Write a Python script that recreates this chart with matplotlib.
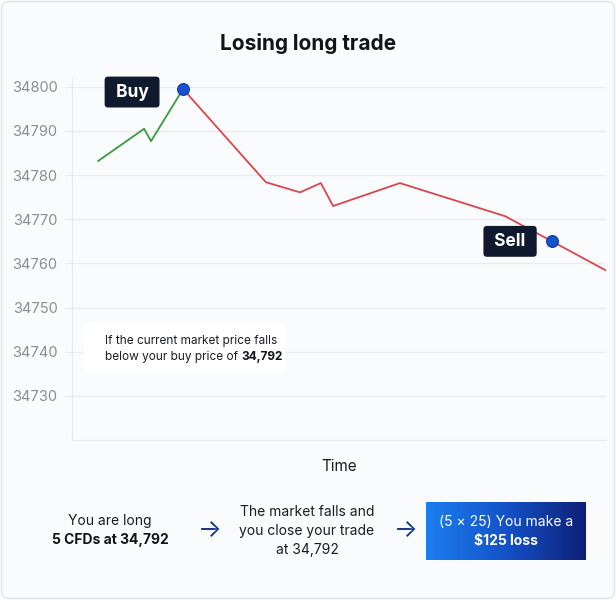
import numpy as np
import matplotlib
matplotlib.use("Agg")
import matplotlib.pyplot as plt
from matplotlib.patches import FancyBboxPatch
from matplotlib.colors import LinearSegmentedColormap

plt.rcParams['font.family'] = ['Inter', 'DejaVu Sans']

# data (time on a 0-100 scale)
t_buy = [4.9, 13.5, 14.8, 20.8]
p_buy = [34783.2, 34790.5, 34787.7, 34799.5]
t_sell = [20.8, 36.3, 42.7, 46.6, 48.9, 61.4, 81.1, 89.9, 100]
p_sell = [34799.5, 34778.4, 34776.1, 34778.2, 34773.0, 34778.2, 34770.7, 34765.0, 34758.4]
y_ticks = [34730, 34740, 34750, 34760, 34770, 34780, 34790, 34800]
buy_pt = (20.8, 34799.5)
sell_pt = (89.9, 34765.0)

W, H = 616, 600
fig = plt.figure(figsize=(W / 100, H / 100), dpi=100)
fig.patch.set_facecolor('white')

# outer card
card = FancyBboxPatch((1.5 / W, 1.5 / H), 1 - 3 / W, 1 - 3 / H,
                      boxstyle="round,pad=0,rounding_size=0.012",
                      transform=fig.transFigure, facecolor='#fafbfd',
                      edgecolor='#e3e5ea', lw=1.2, zorder=-10)
fig.patches.append(card)

ax = fig.add_axes([72 / W, 1 - 440 / H, (606 - 72) / W, (440 - 78) / H])
ax.set_facecolor('none')
ax.set_xlim(0, 100)
ax.set_ylim(34720, 34802)
ax.set_yticks(y_ticks)
ax.set_yticklabels([str(v) for v in y_ticks], color='#8a8d94', fontsize=10.5)
ax.tick_params(axis='y', length=5, color='#e6e8ec', pad=5.5)
ax.set_xticks([])
ax.grid(axis='y', color='#e9ebef', lw=1)
for s in ['top', 'right']:
    ax.spines[s].set_visible(False)
for s in ['left', 'bottom']:
    ax.spines[s].set_color('#e6e8ec')
ax.set_axisbelow(True)

ax.plot(t_buy, p_buy, color='#3a9a3e', lw=1.3)
ax.plot(t_sell, p_sell, color='#d9464c', lw=1.3)
ax.plot(*buy_pt, 'o', ms=8.5, color='#1553cc', mec='#0b3a9c', mew=0.8, zorder=5, clip_on=False)
ax.plot(*sell_pt, 'o', ms=8.5, color='#1553cc', mec='#0b3a9c', mew=0.8, zorder=5)

ax.annotate(' Buy ', buy_pt, xytext=(-51, -3), textcoords='offset pixels',
            ha='center', va='center', fontsize=12.5, fontweight='bold', color='white',
            bbox=dict(boxstyle='round,pad=0.4,rounding_size=0.2', fc='#0f1a2e', ec='none'))
ax.annotate(' Sell ', sell_pt, xytext=(-42, 0), textcoords='offset pixels',
            ha='center', va='center', fontsize=12.5, fontweight='bold', color='white',
            bbox=dict(boxstyle='round,pad=0.4,rounding_size=0.2', fc='#0f1a2e', ec='none'))

ax.set_xlabel('Time', fontsize=11, color='#1a1d24', labelpad=14)

fig.text(0.5, 1 - 44 / H, 'Losing long trade', ha='center', va='center',
         fontsize=15, fontweight='bold', color='#111418')

# note box inside the chart
note = FancyBboxPatch((84 / W, 1 - 374 / H), 202 / W, 51 / H,
                      boxstyle="round,pad=0,rounding_size=0.008",
                      transform=fig.transFigure, facecolor='white', edgecolor='none', zorder=3)
fig.patches.append(note)
fig.text(105 / W, 1 - 341 / H, 'If the current market price falls', ha='left', va='center',
         fontsize=8.5, color='#1a1d24', zorder=4)
fig.canvas.draw()
r = fig.canvas.get_renderer()
ta = fig.text(105 / W, 1 - 357 / H, 'below your buy price of', va='center', fontsize=8.5,
              color='#1a1d24')
wa = ta.get_window_extent(r).width
fig.text((105 + wa + 3.5) / W, 1 - 357 / H, '34,792', va='center', fontsize=8.5,
         fontweight='bold', color='#111418')

# bottom explanation row
fig.text(110 / W, 1 - 521 / H, 'You are long', ha='center', va='center', fontsize=10, color='#1a1d24')
fig.text(110 / W, 1 - 540 / H, '5 CFDs at 34,792', ha='center', va='center', fontsize=10,
         fontweight='bold', color='#111418')
fig.text(210 / W, 1 - 531 / H, '→', ha='center', va='center', fontsize=18, color='#1a3a8a')
fig.text(307 / W, 1 - 531 / H, 'The market falls and\nyou close your trade\nat 34,792', ha='center',
         va='center', fontsize=10, color='#1a1d24', linespacing=1.45)
fig.text(406 / W, 1 - 531 / H, '→', ha='center', va='center', fontsize=18, color='#1a3a8a')

gax = fig.add_axes([426 / W, 1 - 560 / H, 160 / W, 58 / H])
grad = np.linspace(0, 1, 256).reshape(1, -1)
cmap = LinearSegmentedColormap.from_list('bluegrad', ['#1c7ef0', '#1452c8', '#0e1f78'])
gax.imshow(grad, aspect='auto', cmap=cmap, extent=(0, 1, 0, 1))
gax.axis('off')
fig.text(506 / W, 1 - 522 / H, '(5 × 25) You make a', ha='center', va='center', fontsize=10,
         color='white')
fig.text(506 / W, 1 - 541 / H, '$125 loss', ha='center', va='center', fontsize=10,
         fontweight='bold', color='white')

fig.savefig('out.png', dpi=100)
